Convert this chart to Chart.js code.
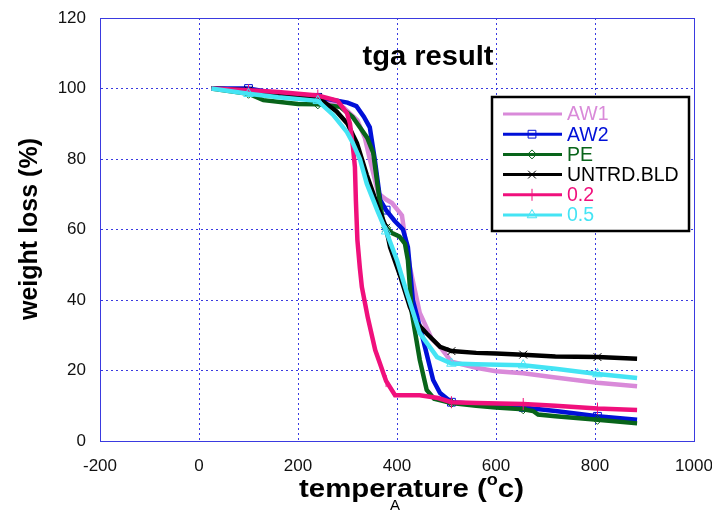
<!DOCTYPE html>
<html>
<head>
<meta charset="UTF-8">
<title>tga result</title>
<script src="https://cdn.jsdelivr.net/npm/chart.js@4.4.0/dist/chart.umd.min.js"></script>
<style>
  html, body { margin: 0; padding: 0; background: #fff; }
  #wrap { width: 712px; height: 510px; }
</style>
</head>
<body>
<div id="wrap"><canvas id="tga" width="712" height="510"></canvas></div>
<script>
// temperatures (°C) and weight (%)
const tempAW1 = [25, 100, 160, 240, 293, 320, 335, 345, 362, 378, 390, 410, 416, 426, 446, 470, 487, 510, 560, 600, 655, 720, 805, 885];
const lossAW1 = [100, 99.5, 98.8, 97.8, 94.5, 91, 86, 80, 70.3, 68.5, 67.5, 64, 58, 49.4, 36.3, 29, 26.7, 22.5, 20.8, 19.8, 19.2, 18, 16.5, 15.5];

const tempAW2 = [25, 100, 160, 240, 300, 318, 333, 345, 355, 366, 378, 395, 412, 422, 432, 453, 473, 487, 510, 560, 600, 655, 720, 805, 885];
const lossAW2 = [100, 100, 98.5, 97.5, 96, 95, 92, 89, 80, 68.4, 65.5, 62.5, 60, 55, 40, 28.6, 17.3, 13.6, 11, 10.5, 10, 9.5, 8.5, 7, 6];

const tempPE = [25, 100, 130, 200, 240, 285, 310, 325, 340, 352, 362, 372, 378, 390, 405, 416, 422, 430, 446, 460, 475, 510, 560, 600, 655, 675, 685, 720, 805, 885];
const lossPE = [100, 98.5, 96.7, 95.6, 95.5, 94.8, 92, 89, 86, 81.7, 71.2, 61.8, 60.5, 59, 58, 56, 51.3, 36.3, 23, 14.5, 12, 10.8, 10, 9.5, 9, 8.5, 7.5, 7, 6, 5];

const tempBLD = [25, 100, 160, 240, 278, 300, 319, 339, 360, 378, 386, 406, 426, 440, 460, 487, 510, 560, 600, 655, 720, 805, 885];
const lossBLD = [100, 99.5, 98.5, 97.5, 93.5, 90, 84.5, 75.5, 67, 60.5, 55, 47, 38, 33.5, 30.5, 26.7, 25.5, 25, 24.8, 24.5, 24, 23.8, 23.3];

const temp02 = [25, 100, 160, 240, 280, 299, 305, 311, 315, 317, 320, 325, 329, 341, 356, 378, 396, 446, 483, 510, 560, 655, 720, 805, 885];
const loss02 = [100, 99.5, 99, 98, 96.5, 93, 90, 83.4, 77.7, 68, 57, 49, 43.7, 35, 25.8, 17, 13, 13, 12.2, 11, 10.8, 10.5, 10, 9.2, 8.8];

const temp05 = [25, 100, 160, 240, 271, 299, 311, 325, 339, 360, 378, 400, 420, 446, 481, 510, 560, 655, 720, 805, 885];
const loss05 = [100, 98.5, 97.5, 96.5, 92.5, 87.6, 84.5, 80, 73, 65.5, 59.5, 51.3, 42, 30.6, 23.8, 22, 21.8, 21.5, 20.5, 19, 17.9];

const seriesNames = ['AW1', 'AW2', 'PE', 'UNTRD.BLD', '0.2', '0.5'];
const markerTemps = [100, 240, 378, 510, 655, 805];

const series = [
  { x: tempAW1, y: lossAW1, color: '#d98ad9', style: false, r: 0 },
  { x: tempAW2, y: lossAW2, color: '#0010d8', style: 'rect', r: 5.5 },
  { x: tempPE, y: lossPE, color: '#08641a', style: 'rectRot', r: 4.5 },
  { x: tempBLD, y: lossBLD, color: '#000000', style: 'crossRot', r: 5.5 },
  { x: temp02, y: loss02, color: '#f0107c', style: 'line', r: 6, rot: 90 },
  { x: temp05, y: loss05, color: '#44e4f4', style: 'triangle', r: 5.5 }
];

const gridBlue = '#3a3ae0';
const font = "'Liberation Sans', Arial, sans-serif";

const datasets = series.map((s, i) => ({
  label: seriesNames[i],
  data: s.x.map((t, k) => ({ x: t, y: s.y[k] })),
  borderColor: s.color,
  borderWidth: 4.5,
  tension: 0,
  fill: false,
  order: series.length - i,
  pointStyle: s.style,
  pointRotation: s.rot || 0,
  pointBorderColor: s.color,
  pointBackgroundColor: 'rgba(0,0,0,0)',
  pointBorderWidth: 1,
  pointRadius: c => (s.r && c.raw && markerTemps.includes(c.raw.x)) ? s.r : 0,
  pointHoverRadius: 0
}));

function drawMarker(ctx, s, x, y) {
  if (!s.style) return;
  ctx.save();
  ctx.strokeStyle = s.color;
  ctx.fillStyle = 'rgba(0,0,0,0)';
  ctx.lineWidth = 1;
  Chart.helpers.drawPoint(ctx, { pointStyle: s.style, rotation: s.rot || 0, radius: s.r, borderWidth: 1 }, x, y);
  ctx.restore();
}

// draws a string squeezed or stretched horizontally
function fillStretched(ctx, text, x, y, scaleX) {
  ctx.save();
  ctx.translate(x, y);
  ctx.scale(scaleX, 1);
  ctx.fillText(text, 0, 0);
  ctx.restore();
}

const decorations = {
  id: 'decorations',
  beforeDatasetsDraw(chart) {
    const { ctx, chartArea: a } = chart;
    ctx.save();
    ctx.strokeStyle = gridBlue;
    ctx.lineWidth = 1;
    ctx.strokeRect(a.left + 0.5, a.top + 0.5, a.right - a.left, a.bottom - a.top);
    ctx.restore();
  },
  afterDraw(chart) {
    const { ctx } = chart;
    ctx.save();

    // title inside the plot
    ctx.fillStyle = '#000';
    ctx.font = 'bold 28px ' + font;
    ctx.textAlign = 'center';
    ctx.textBaseline = 'alphabetic';
    fillStretched(ctx, 'tga result', 428, 65, 1.04);

    // legend box
    const lx = 492, ly = 97, lw = 197, lh = 134;
    ctx.fillStyle = '#fff';
    ctx.fillRect(lx, ly, lw, lh);
    ctx.strokeStyle = '#000';
    ctx.lineWidth = 2.5;
    ctx.strokeRect(lx, ly, lw, lh);
    ctx.font = '19.5px ' + font;
    ctx.textAlign = 'left';
    ctx.textBaseline = 'middle';
    series.forEach((s, i) => {
      const y = 114 + i * 20.2;
      ctx.strokeStyle = s.color;
      ctx.lineWidth = 3;
      ctx.beginPath();
      ctx.moveTo(503, y);
      ctx.lineTo(562, y);
      ctx.stroke();
      drawMarker(ctx, s, 532, y);
      ctx.fillStyle = s.color;
      ctx.fillText(seriesNames[i], 567, y + 1);
    });

    // y axis title
    ctx.fillStyle = '#000';
    ctx.font = 'bold 25px ' + font;
    ctx.save();
    ctx.translate(30, 229);
    ctx.rotate(-Math.PI / 2);
    ctx.textAlign = 'center';
    ctx.textBaseline = 'middle';
    ctx.fillText('weight loss (%)', 0, 0);
    ctx.restore();

    // x axis title with superscript o, drawn a little wider like the original
    const sx = 1.13;
    const big = 'bold 26px ' + font, small = 'bold 16px ' + font;
    ctx.textBaseline = 'alphabetic';
    ctx.textAlign = 'left';
    ctx.font = big;
    const p1 = 'temperature (', p3 = 'c)';
    const w1 = ctx.measureText(p1).width * sx, w3 = ctx.measureText(p3).width * sx;
    ctx.font = small;
    const w2 = ctx.measureText('o').width * sx;
    const x0 = 411.5 - (w1 + w2 + w3) / 2;
    const base = 497;
    ctx.font = big;
    fillStretched(ctx, p1, x0, base, sx);
    ctx.font = small;
    fillStretched(ctx, 'o', x0 + w1, base - 12, sx);
    ctx.font = big;
    fillStretched(ctx, p3, x0 + w1 + w2, base, sx);

    ctx.font = '15px ' + font;
    ctx.textAlign = 'center';
    ctx.fillText('A', 395, 510);
    ctx.restore();
  }
};

new Chart(document.getElementById('tga'), {
  type: 'line',
  data: { datasets },
  options: {
    responsive: false,
    animation: false,
    devicePixelRatio: 1,
    layout: { padding: { top: 18, right: 18, left: 0, bottom: 0 } },
    plugins: { legend: { display: false }, tooltip: { enabled: false } },
    scales: {
      x: {
        type: 'linear',
        min: -200,
        max: 1000,
        ticks: {
          stepSize: 200, color: '#111', font: { family: font, size: 17 }, padding: 15, maxRotation: 0,
          callback: v => String(v)
        },
        grid: { color: gridBlue, lineWidth: 1, drawTicks: false },
        border: { color: gridBlue, dash: [2, 3] },
        afterFit: s => { s.height = 69; s.paddingLeft = 0; s.paddingRight = 0; }
      },
      y: {
        min: 0,
        max: 120,
        ticks: { stepSize: 20, color: '#111', font: { family: font, size: 17 }, padding: 14 },
        grid: { color: gridBlue, lineWidth: 1, drawTicks: false },
        border: { color: gridBlue, dash: [2, 3] },
        afterFit: s => { s.width = 100; s.paddingTop = 0; s.paddingBottom = 0; }
      }
    }
  },
  plugins: [decorations]
});
</script>
</body>
</html>
